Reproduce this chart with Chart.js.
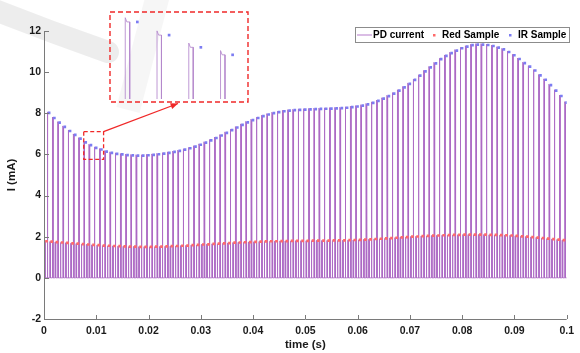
<!DOCTYPE html>
<html>
<head>
<meta charset="utf-8">
<script src="https://cdn.jsdelivr.net/npm/chart.js@4/dist/chart.umd.min.js"></script>
<style>
    body { margin: 0; background: #fff; }
    #contenedor { position: relative; width: 580px; height: 353px; }
    #grafica { position: absolute; left: 0; top: 0; }
    #zoom { position: absolute; left: 109px; top: 11px; }
</style>
</head>
<body>
<div id="contenedor">
    <canvas id="grafica" width="580" height="353"></canvas>
    <canvas id="zoom" width="140" height="92"></canvas>
</div>
<script>
// Un pulso rojo y uno IR por periodo (1 ms)
const periodo = 0.001;
const sobrepico = 0.045;

// Valores muestreados (mA) en cada periodo
const irSample = [
    8.02, 7.77, 7.55, 7.34, 7.14, 6.95, 6.77, 6.59, 6.45, 6.32,
    6.24, 6.14, 6.08, 6.03, 6.00, 5.97, 5.95, 5.94, 5.94, 5.96,
    5.98, 6.01, 6.04, 6.08, 6.12, 6.17, 6.23, 6.30, 6.38, 6.47,
    6.57, 6.68, 6.80, 6.92, 7.05, 7.18, 7.31, 7.44, 7.56, 7.67,
    7.77, 7.86, 7.94, 8.01, 8.06, 8.10, 8.13, 8.15, 8.17, 8.18,
    8.19, 8.20, 8.21, 8.22, 8.23, 8.24, 8.25, 8.27, 8.30, 8.33,
    8.37, 8.43, 8.51, 8.60, 8.71, 8.83, 8.96, 9.10, 9.26, 9.43,
    9.62, 9.83, 10.04, 10.23, 10.43, 10.63, 10.79, 10.92, 11.05, 11.16,
    11.24, 11.31, 11.34, 11.34, 11.32, 11.27, 11.19, 11.11, 10.98, 10.82,
    10.64, 10.44, 10.27, 10.08, 9.84, 9.63, 9.37, 9.10, 8.84, 8.52
];
const redSample = [
    1.78, 1.76, 1.74, 1.72, 1.70, 1.68, 1.66, 1.64, 1.62, 1.60,
    1.59, 1.57, 1.56, 1.55, 1.54, 1.53, 1.52, 1.52, 1.51, 1.51,
    1.51, 1.52, 1.52, 1.53, 1.54, 1.55, 1.56, 1.57, 1.59, 1.60,
    1.62, 1.63, 1.65, 1.66, 1.68, 1.69, 1.71, 1.72, 1.73, 1.74,
    1.75, 1.76, 1.77, 1.78, 1.78, 1.79, 1.79, 1.80, 1.80, 1.80,
    1.80, 1.81, 1.81, 1.81, 1.81, 1.82, 1.82, 1.82, 1.83, 1.84,
    1.85, 1.86, 1.87, 1.89, 1.90, 1.92, 1.93, 1.95, 1.97, 1.98,
    2.00, 2.01, 2.03, 2.04, 2.05, 2.06, 2.07, 2.08, 2.09, 2.09,
    2.10, 2.10, 2.10, 2.10, 2.10, 2.09, 2.09, 2.08, 2.07, 2.06,
    2.04, 2.02, 2.00, 1.98, 1.96, 1.93, 1.91, 1.88, 1.86, 1.83
];
const xTicks = [0, 0.01, 0.02, 0.03, 0.04, 0.05, 0.06, 0.07, 0.08, 0.09, 0.1];
const yTicks = [-2, 0, 2, 4, 6, 8, 10, 12];
const etiquetas = ['PD current', 'Red Sample', 'IR Sample'];

const colorPD = 'rgba(172, 105, 196, 0.88)';
const colorRed = '#ff6a6a';
const colorIR = '#7c7cf2';
const colorEje = '#7a7a7a';
const fuente = '"Liberation Sans", Arial, sans-serif';

// Forma de onda de la corriente del fotodiodo a partir de las muestras
function construirPulsos() {
    const puntos = [];
    for (let k = 0; k < irSample.length; k++) {
        const t0 = k * periodo;
        puntos.push({ x: t0, y: 0 });
        puntos.push({ x: t0 + 0.0001, y: 0 }, { x: t0 + 0.0001, y: redSample[k] });
        puntos.push({ x: t0 + 0.00023, y: redSample[k] }, { x: t0 + 0.00023, y: 0 });
        puntos.push({ x: t0 + 0.0006, y: 0 }, { x: t0 + 0.0006, y: irSample[k] + sobrepico });
        puntos.push({ x: t0 + 0.00065, y: irSample[k] }, { x: t0 + 0.00074, y: irSample[k] });
        puntos.push({ x: t0 + 0.00074, y: 0 });
    }
    puntos.push({ x: 0.1, y: 0 });
    return puntos;
}
const pulsos = construirPulsos();
const puntosRed = redSample.map((v, k) => ({ x: k * periodo + 0.00048, y: v }));
const puntosIR = irSample.map((v, k) => ({ x: k * periodo + 0.00098, y: v }));

Chart.defaults.font.family = fuente;
Chart.defaults.animation = false;

const decoracion = {
    id: 'decoracion',
    beforeDraw(chart) {
        // marca de agua gris
        const ctx = chart.ctx;
        ctx.save();
        ctx.strokeStyle = 'rgba(0, 0, 0, 0.07)';
        ctx.lineCap = 'round';
        ctx.lineWidth = 22;
        ctx.beginPath();
        ctx.moveTo(-15, 6);
        ctx.quadraticCurveTo(45, 30, 108, 52);
        ctx.stroke();
        ctx.strokeStyle = 'rgba(0, 0, 0, 0.035)';
        ctx.lineWidth = 24;
        ctx.lineCap = 'butt';
        ctx.beginPath();
        ctx.moveTo(128, 110);
        ctx.lineTo(158, -5);
        ctx.stroke();
        ctx.restore();
    },
    afterDraw(chart) {
        const ctx = chart.ctx;
        const xs = chart.scales.x;
        const ys = chart.scales.y;
        const area = chart.chartArea;
        ctx.save();

        // ejes y marcas hacia dentro
        ctx.strokeStyle = colorEje;
        ctx.lineWidth = 1;
        ctx.beginPath();
        ctx.moveTo(area.left + 0.5, area.top);
        ctx.lineTo(area.left + 0.5, area.bottom + 0.5);
        ctx.lineTo(area.right, area.bottom + 0.5);
        xTicks.forEach(v => {
            const px = Math.round(xs.getPixelForValue(v)) + 0.5;
            ctx.moveTo(px, area.bottom);
            ctx.lineTo(px, area.bottom - 4);
        });
        yTicks.forEach(v => {
            const py = Math.round(ys.getPixelForValue(v)) + 0.5;
            ctx.moveTo(area.left, py);
            ctx.lineTo(area.left + 5, py);
        });
        ctx.stroke();

        // recuadro de la zona ampliada y flecha
        const bx0 = xs.getPixelForValue(0.0076), bx1 = xs.getPixelForValue(0.0114);
        const by0 = ys.getPixelForValue(7.11), by1 = ys.getPixelForValue(5.76);
        ctx.strokeStyle = '#f02828';
        ctx.lineWidth = 1.3;
        ctx.setLineDash([4, 2.5]);
        ctx.strokeRect(bx0, by0, bx1 - bx0, by1 - by0);
        ctx.setLineDash([]);
        const fx = 178, fy = 103.5;
        ctx.beginPath();
        ctx.moveTo(bx1, by0);
        ctx.lineTo(fx, fy);
        ctx.stroke();
        const ang = Math.atan2(fy - by0, fx - bx1);
        ctx.fillStyle = '#f02828';
        ctx.beginPath();
        ctx.moveTo(fx, fy);
        ctx.lineTo(fx - 8 * Math.cos(ang - 0.4), fy - 8 * Math.sin(ang - 0.4));
        ctx.lineTo(fx - 8 * Math.cos(ang + 0.4), fy - 8 * Math.sin(ang + 0.4));
        ctx.closePath();
        ctx.fill();

        // leyenda
        const lx = 355, ly = 27, lw = 214, lh = 15;
        ctx.fillStyle = '#fff';
        ctx.fillRect(lx, ly, lw, lh);
        ctx.strokeStyle = '#8c8c8c';
        ctx.lineWidth = 1;
        ctx.strokeRect(lx + 0.5, ly + 0.5, lw, lh);
        const cy = ly + lh / 2 + 0.5;
        ctx.strokeStyle = colorPD;
        ctx.beginPath();
        ctx.moveTo(357, cy);
        ctx.lineTo(372, cy);
        ctx.stroke();
        ctx.fillStyle = colorRed;
        ctx.fillRect(433, cy - 1, 2.5, 2.5);
        ctx.fillStyle = colorIR;
        ctx.fillRect(509, cy - 1, 2.5, 2.5);
        ctx.fillStyle = '#000';
        ctx.font = 'bold 10px ' + fuente;
        ctx.textBaseline = 'middle';
        ctx.fillText(etiquetas[0], 373, cy + 0.5);
        ctx.fillText(etiquetas[1], 442, cy + 0.5);
        ctx.fillText(etiquetas[2], 518, cy + 0.5);
        ctx.restore();
    }
};

new Chart(document.getElementById('grafica'), {
    type: 'line',
    data: {
        datasets: [
            { label: etiquetas[0], data: pulsos, borderColor: colorPD, borderWidth: 1, pointRadius: 0, tension: 0, order: 2 },
            { label: etiquetas[1], data: puntosRed, showLine: false, pointStyle: 'rect', pointRadius: 1.9, pointBorderWidth: 0, backgroundColor: colorRed, order: 1 },
            { label: etiquetas[2], data: puntosIR, showLine: false, pointStyle: 'rect', pointRadius: 1.9, pointBorderWidth: 0, backgroundColor: colorIR, order: 1 }
        ]
    },
    options: {
        responsive: false,
        devicePixelRatio: 1,
        layout: { padding: { top: 31, right: 11, left: 0, bottom: 1 } },
        scales: {
            x: {
                type: 'linear',
                min: 0,
                max: 0.1,
                afterBuildTicks: scale => { scale.ticks = xTicks.map(v => ({ value: v })); },
                afterFit: scale => { scale.height = 33; },
                grid: { display: false, drawTicks: false },
                border: { display: false },
                ticks: {
                    autoSkip: false,
                    maxRotation: 0,
                    padding: 6,
                    color: '#1a1a1a',
                    font: { size: 10.5, weight: 'bold' },
                    callback: v => String(+v.toFixed(2))
                },
                title: { display: true, text: 'time (s)', color: '#1a1a1a', padding: 0, font: { size: 11.5, weight: 'bold' } }
            },
            y: {
                min: -2,
                max: 12,
                afterBuildTicks: scale => { scale.ticks = yTicks.map(v => ({ value: v })); },
                afterFit: scale => { scale.width = 44; },
                grid: { display: false, drawTicks: false },
                border: { display: false },
                ticks: {
                    padding: 3,
                    color: '#1a1a1a',
                    font: { size: 10.5, weight: 'bold' },
                    callback: v => String(v)
                },
                title: { display: true, text: 'I (mA)', color: '#1a1a1a', padding: 5, font: { size: 11.5, weight: 'bold' } }
            }
        },
        plugins: {
            legend: { display: false },
            tooltip: { enabled: false }
        }
    },
    plugins: [decoracion]
});

// Ampliación del recuadro rojo
const marcoZoom = {
    id: 'marcoZoom',
    afterDraw(chart) {
        const ctx = chart.ctx;
        ctx.save();
        ctx.strokeStyle = '#f02828';
        ctx.lineWidth = 1.4;
        ctx.setLineDash([5, 3]);
        ctx.strokeRect(1, 1, chart.width - 2, chart.height - 2);
        ctx.restore();
    }
};

new Chart(document.getElementById('zoom'), {
    type: 'line',
    data: {
        datasets: [
            { data: pulsos, borderColor: 'rgba(180, 135, 205, 0.85)', borderWidth: 1, pointRadius: 0, tension: 0, order: 2 },
            { data: puntosIR, showLine: false, pointStyle: 'rect', pointRadius: 1.9, pointBorderWidth: 0, backgroundColor: colorIR, order: 1 }
        ]
    },
    options: {
        responsive: false,
        devicePixelRatio: 1,
        layout: { padding: 0 },
        scales: {
            x: { type: 'linear', display: false, min: 0.007214, max: 0.01137 },
            y: { display: false, min: 5.77, max: 6.664 }
        },
        plugins: { legend: { display: false }, tooltip: { enabled: false } }
    },
    plugins: [marcoZoom]
});
</script>
</body>
</html>
